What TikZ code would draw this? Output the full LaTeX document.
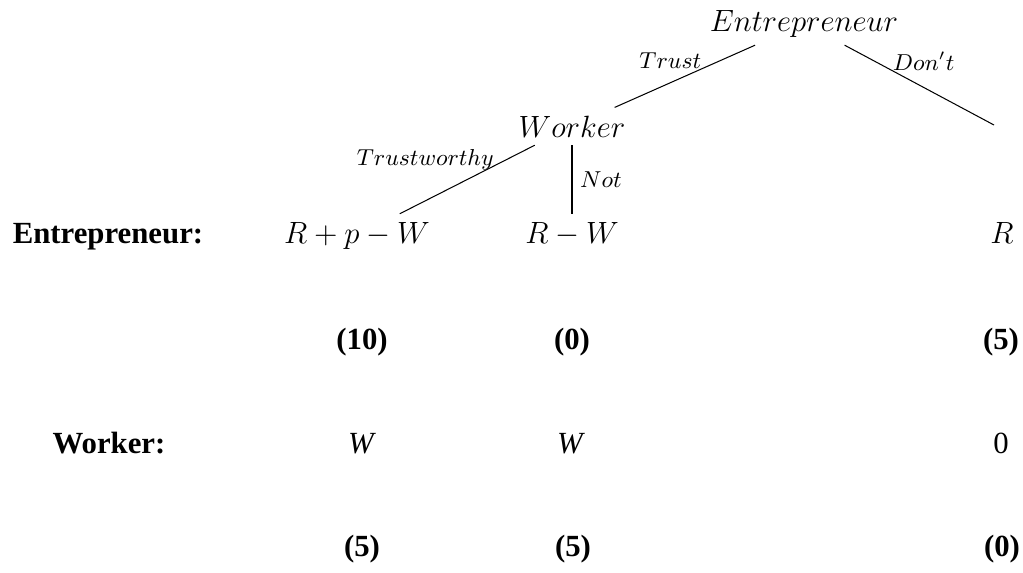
\documentclass[tikz,border=0pt]{standalone}
\usepackage[no-math]{fontspec}
\setmainfont{Liberation Serif}
\usepackage{amsmath}
\usepackage{tikz}

\begin{document}
\begin{tikzpicture}[x=0.39pt, y=-0.39pt,
    every node/.style={font=\fontsize{12}{14}\selectfont},
    player/.style={inner sep=3pt, anchor=base},
    pay/.style={inner sep=3pt, anchor=base},
    lbl/.style={font=\fontsize{8.6}{10}\selectfont, inner sep=0pt},
    rowname/.style={font=\fontsize{12}{14}\selectfont\bfseries, anchor=base},
    score/.style={font=\fontsize{12}{14}\selectfont\bfseries, anchor=base}]
    \useasboundingbox (0,0) rectangle (1023,572);

    % Game tree
    \node[player] (ent) at (804,31) {$Entrepreneur$};
    \node[player] (wrk) at (572,137) {$Worker$};
    \coordinate (dont) at (994,125);
    \node[pay] (tw) at (357,243) {$R+p-W$};
    \node[pay] (nt) at (572,243) {$R-W$};
    \node[pay] (rr) at (1002,243) {$R$};
    \draw (ent) -- node[lbl, pos=.38, anchor=base east] {$Trust$} (wrk);
    \draw (ent) -- node[lbl, pos=.32, anchor=base west] {$Don't$} (dont);
    \draw (wrk) -- node[lbl, pos=.30, anchor=base east] {$Trustworthy$} (tw);
    \draw (wrk) -- node[lbl, midway, right=3pt] {$Not$} (nt);

    % Entrepreneur payoffs
    \node[rowname] (entrow) at (108,243) {Entrepreneur:};
    \node[score] (esc1) at (362,349) {(10)};
    \node[score] (esc2) at (572,349) {(0)};
    \node[score] (esc3) at (1001,349) {(5)};

    % Worker payoffs
    \node[rowname] (wrkrow) at (109,453) {Worker:};
    \node[pay] (wpay1) at (362,453) {\textit{W}};
    \node[pay] (wpay2) at (571,453) {\textit{W}};
    \node[pay] (wpay3) at (1001,453) {0};
    \node[score] (wsc1) at (362,556) {(5)};
    \node[score] (wsc2) at (573,556) {(5)};
    \node[score] (wsc3) at (1002,556) {(0)};
\end{tikzpicture}
\end{document}
